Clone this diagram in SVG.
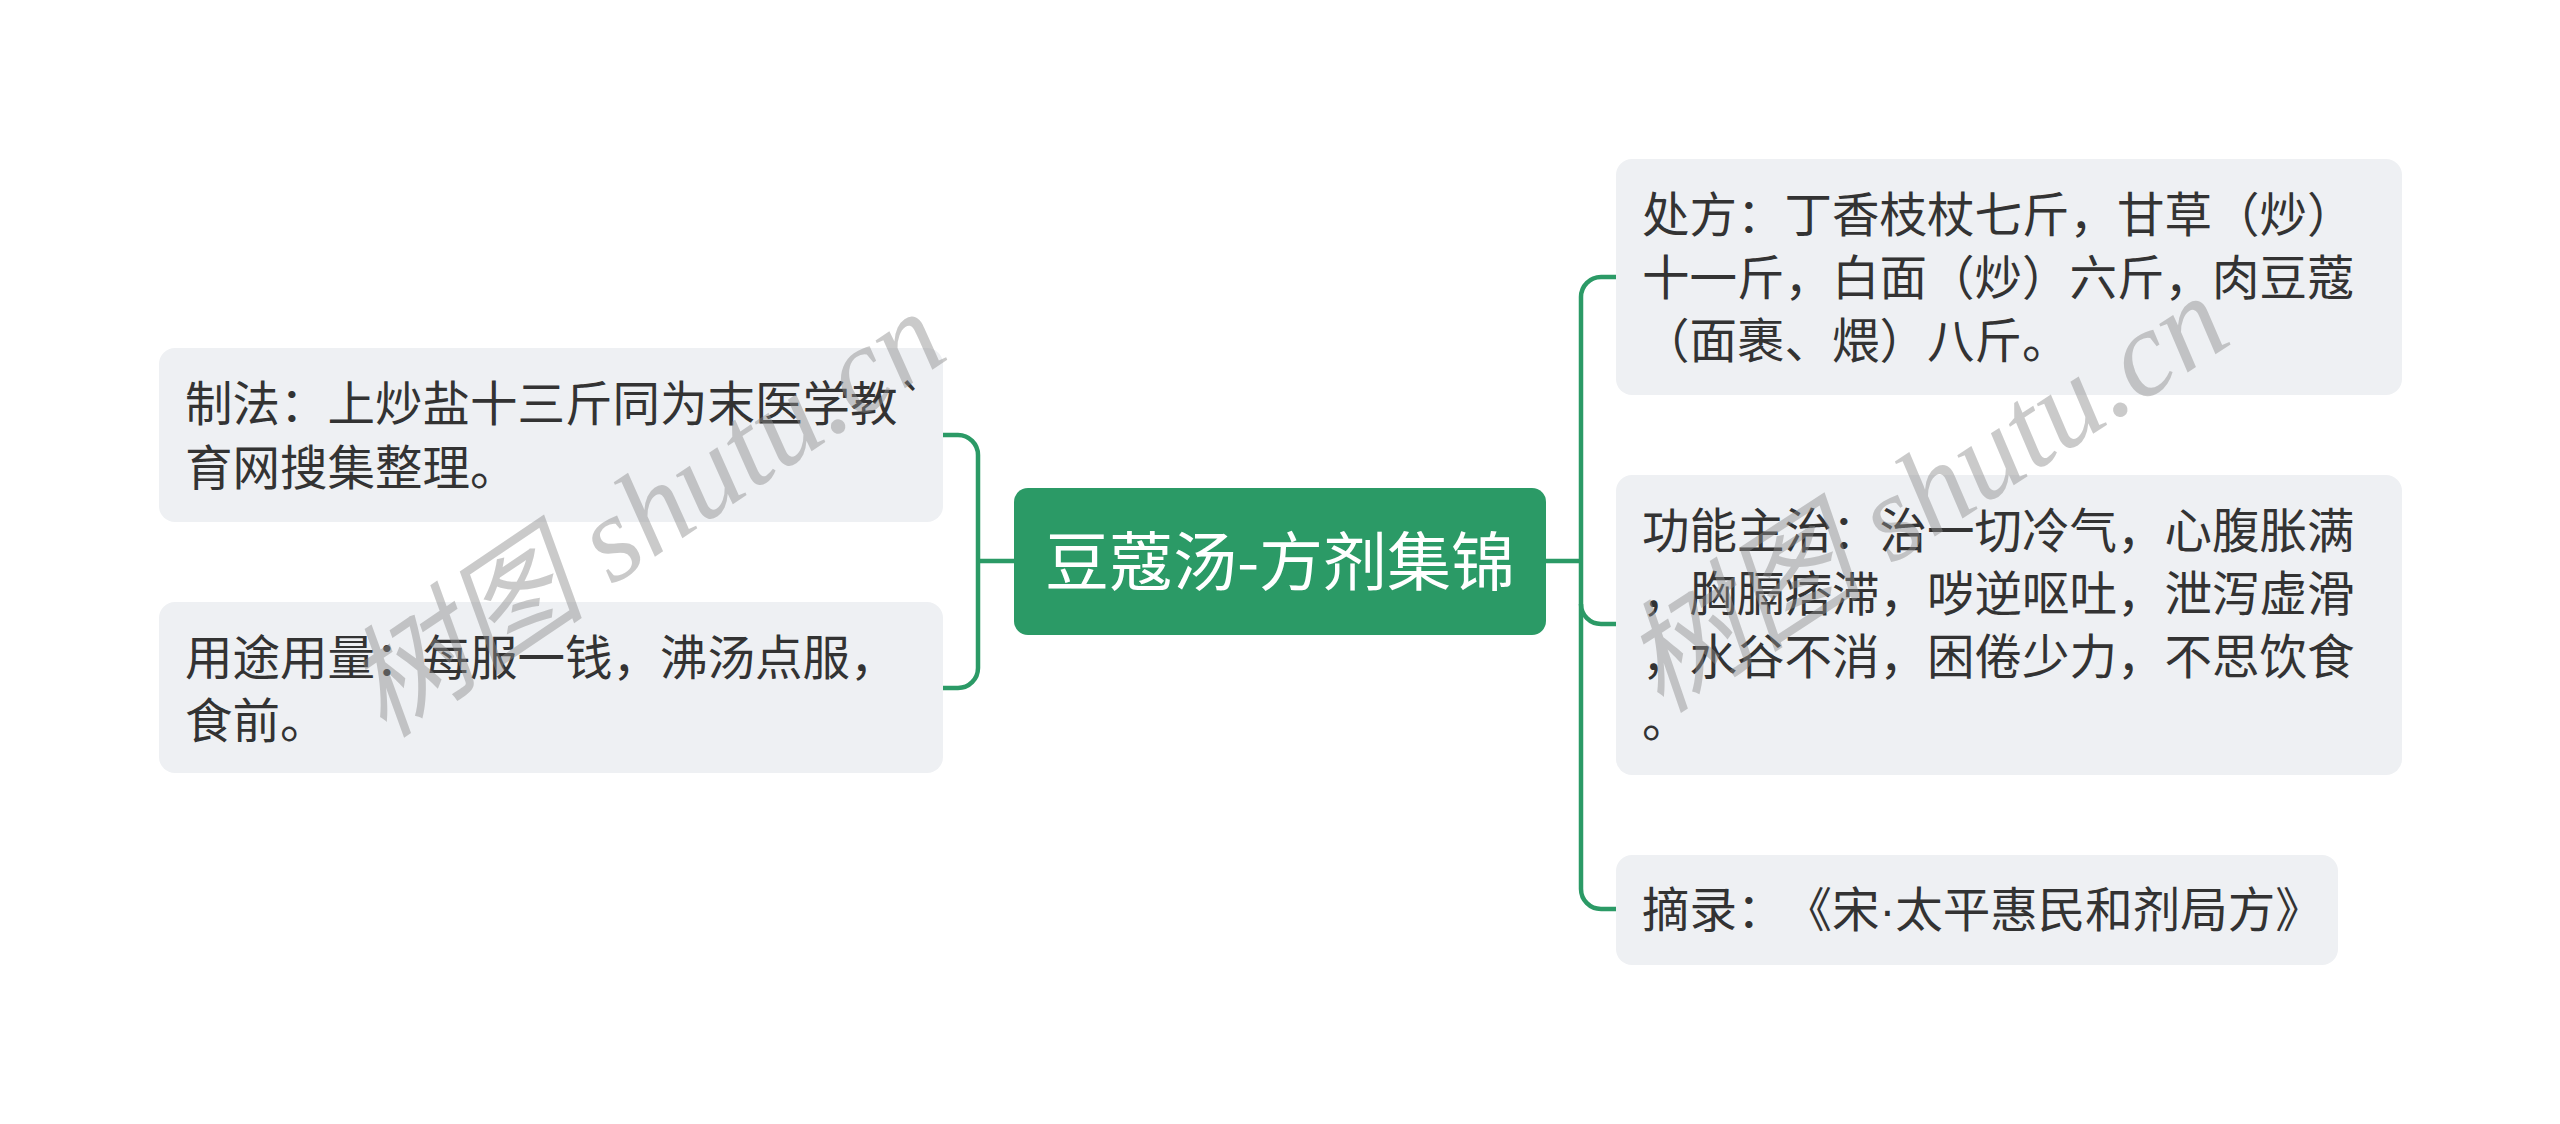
<svg xmlns="http://www.w3.org/2000/svg" width="2560" height="1124" viewBox="0 0 2560 1124">
<style>
.box{fill:#eef0f3;}
.t{font-family:"Noto Sans CJK SC","Noto Sans",sans-serif;font-size:47.5px;fill:#333333;text-spacing-trim:space-all;font-feature-settings:"chws" 0,"halt" 0;}
.ct{font-family:"Noto Sans CJK SC","Noto Sans",sans-serif;font-size:64px;fill:#ffffff;text-anchor:middle;}
.ln{fill:none;stroke:#2b9a66;stroke-width:4.5;}
.wm{font-family:"Liberation Serif","Noto Sans CJK SC",serif;font-style:italic;font-size:122px;fill:#8c8c8c;opacity:0.45;text-anchor:middle;}
.dot{font-family:"Liberation Sans",sans-serif;}
</style>
<rect width="2560" height="1124" fill="#ffffff"/>
<g id="connectors">
<path class="ln" d="M1014,561 H978"/>
<path class="ln" d="M943,435 H958 A20,20 0 0 1 978,455 V668 A20,20 0 0 1 958,688 H943"/>
<path class="ln" d="M1546,561 H1581"/>
<path class="ln" d="M1616,277 H1601 A20,20 0 0 0 1581,297 V889 A20,20 0 0 0 1601,909 H1616"/>
<path class="ln" d="M1581,604 A20,20 0 0 0 1601,624 H1616"/>
</g>
<g id="center">
<rect x="1014" y="488" width="532" height="147" rx="14" fill="#2b9a66"/>
<text class="ct" x="1280" y="585">豆蔻汤-方剂集锦</text>
</g>
<g id="node-zhifa">
<rect class="box" x="159" y="348" width="784" height="174" rx="16"/>
<text class="t" x="185" y="421">制法：上炒盐十三斤同为末医学教`</text>
<text class="t" x="185" y="485">育网搜集整理。</text>
</g>
<g id="node-yongtu">
<rect class="box" x="159" y="602" width="784" height="171" rx="16"/>
<text class="t" x="185" y="675">用途用量：每服一钱，沸汤点服，</text>
<text class="t" x="185" y="738">食前。</text>
</g>
<g id="node-chufang">
<rect class="box" x="1616" y="159" width="786" height="236" rx="16"/>
<text class="t" x="1642" y="232">处方：丁香枝杖七斤，甘草（炒）</text>
<text class="t" x="1642" y="295">十一斤，白面（炒）六斤，肉豆蔻</text>
<text class="t" x="1642" y="358">（面裹、煨）八斤。</text>
</g>
<g id="node-gongneng">
<rect class="box" x="1616" y="475" width="786" height="300" rx="16"/>
<text class="t" x="1642" y="548">功能主治：治一切冷气，心腹胀满</text>
<text class="t" x="1642" y="611">，胸膈痞滞，哕逆呕吐，泄泻虚滑</text>
<text class="t" x="1642" y="674">，水谷不消，困倦少力，不思饮食</text>
<text class="t" x="1642" y="737">。</text>
</g>
<g id="node-zhailu">
<rect class="box" x="1616" y="855" width="722" height="110" rx="16"/>
<text class="t" x="1642" y="927">摘录：《宋<tspan class="dot">·</tspan>太平惠民和剂局方》</text>
</g>
<g id="watermark">
<text class="wm" transform="translate(668,548) rotate(-34)">树图 shutu.cn</text>
<text class="wm" transform="translate(1948,528) rotate(-33)">树图 shutu.cn</text>
</g>
</svg>
